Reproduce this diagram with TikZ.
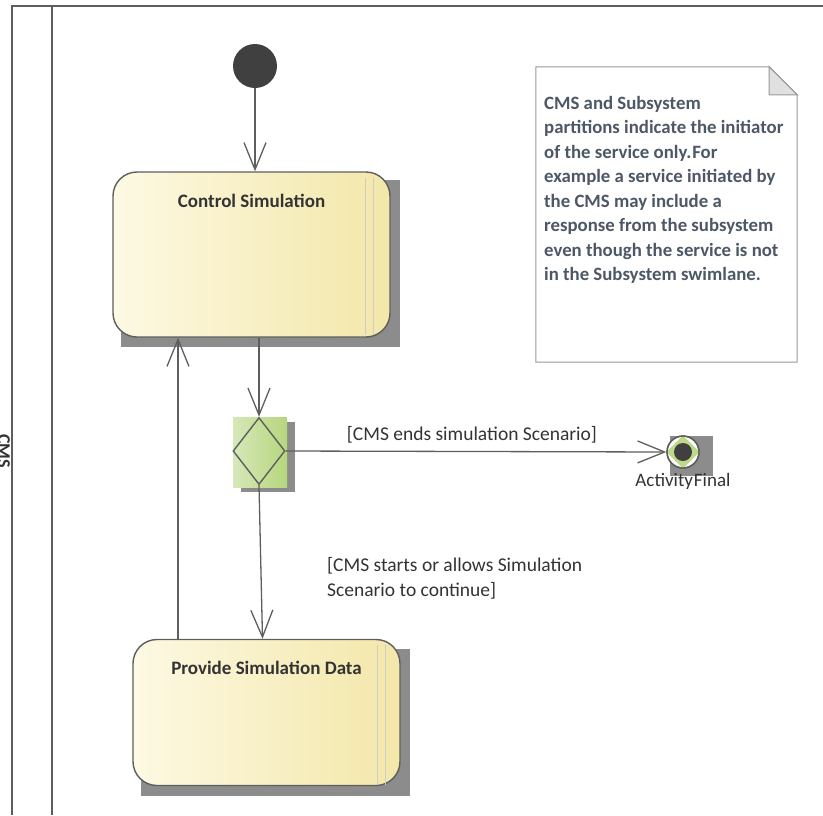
\documentclass[tikz,border=0pt]{standalone}
\usepackage{fontspec}
\setmainfont{Carlito}
\usetikzlibrary{arrows.meta,shapes.geometric,backgrounds}

\definecolor{linegray}{HTML}{5E5E5E}
\definecolor{shadowgray}{HTML}{8C8C8C}
\definecolor{actleft}{HTML}{FDF9E3}
\definecolor{actright}{HTML}{F3E7A9}
\definecolor{decleft}{HTML}{D6E8B9}
\definecolor{decright}{HTML}{B6D67D}
\definecolor{notetext}{HTML}{4D5866}
\definecolor{darkfill}{HTML}{404040}

\tikzset{
  flow/.style={draw=linegray,line width=1.3pt,-{Straight Barb[length=27pt,width=22pt]}},
  action/.style={draw=linegray,line width=1.4pt,rounded corners=24pt,
    left color=actleft,right color=actright,inner sep=0pt},
  acttitle/.style={anchor=north,font=\bfseries\fontsize{19}{22}\selectfont,text=black!80},
  guard/.style={font=\fontsize{19.5}{25}\selectfont,text=black!80},
  lane/.style={draw=linegray,line width=2.4pt}
}

\begin{document}
\begin{tikzpicture}[x=1pt,y=-1pt]
  \useasboundingbox (0,0) rectangle (823,815);
  \clip (0,0) rectangle (823,815);

  % swimlane
  \draw[lane] (823,6) -- (12,6) -- (12,815);
  \draw[lane] (52,6) -- (52,815);
  \node[rotate=-90,font=\bfseries\fontsize{18}{20}\selectfont,text=black!80,inner sep=0pt] (cms) at (4,451) {CMS};

  % nodes
  \node[circle,fill=darkfill,minimum size=44pt,inner sep=0pt] (init) at (255,66) {};
  \node[action,minimum width=277pt,minimum height=165pt,
    label={[acttitle,yshift=-19pt,name=ctrltitle]north:Control Simulation}] (ctrl) at (251.5,254.5) {};
  \node[minimum width=54pt,minimum height=70pt,left color=decleft,right color=decright,
    inner sep=0pt] (dec) at (260,452) {};
  \node[diamond,draw=linegray,line width=1.4pt,minimum width=52pt,minimum height=67pt,
    aspect=0.78,inner sep=0pt] (decd) at (259,451) {};
  \node[circle,draw=linegray,line width=1.4pt,fill=white,minimum size=32pt,inner sep=0pt,
    label={[name=fintitle,font=\fontsize{19}{22}\selectfont,text=black!80,yshift=-1pt]below:Activity\hspace{1pt}Final}] (final) at (683,452) {};
  \node[action,minimum width=267pt,minimum height=146pt,
    label={[acttitle,yshift=-19pt,name=provtitle]north:Provide Simulation Data}] (prov) at (266.5,712.5) {};
  \node[minimum width=261pt,minimum height=295pt,inner sep=0pt] (note) at (666.5,214.5) {};

  \begin{scope}[on background layer]
    \fill[shadowgray] ([xshift=9pt,yshift=-9pt]ctrl.south west) rectangle ([xshift=9pt,yshift=-9pt]ctrl.north east);
    \fill[shadowgray] ([xshift=9pt,yshift=-10pt]prov.south west) rectangle ([xshift=9pt,yshift=-10pt]prov.north east);
    \fill[shadowgray] ([xshift=8pt,yshift=-5pt]dec.south west) rectangle ([xshift=8pt,yshift=-5pt]dec.north east);
    \fill[shadowgray] (670,436) rectangle (713,476);
  \end{scope}

  % inner stack lines
  \draw[black!20,line width=0.8pt] (365,178) -- (365,335) (373,178) -- (373,335);
  \draw[black!20,line width=0.8pt] (377,645) -- (377,785) (385,645) -- (385,785);

  % final node inside
  \fill[decright!80!decleft] (final.north) -- (final.east) -- (final.south) -- (final.west) -- cycle;
  \fill[darkfill] (final) circle (9);
  \draw[linegray,line width=1.4pt] (final) circle (16);

  % note
  \draw[black!40,line width=1pt,fill=white] (note.north west) -- ([xshift=-28pt]note.north east)
    -- ([yshift=-28pt]note.north east) -- (note.south east) -- (note.south west) -- cycle;
  \draw[black!40,line width=1pt,fill=black!12] ([xshift=-28pt]note.north east)
    -- ([xshift=-28pt,yshift=-28pt]note.north east) -- ([yshift=-28pt]note.north east) -- cycle;
  \node[anchor=north west,align=left,text=notetext,inner sep=0pt,
    font=\bfseries\fontsize{18.8}{24.5}\selectfont] (notetxt) at (544,96)
    {CMS and Subsystem\\partitions indicate the initiator\\of the service only.\hspace{1pt}For\\example a service initiated by\\the CMS may include a\\response from the subsystem\\even though the service is not\\in the Subsystem swimlane.};

  % flows
  \draw[flow] (init) -- (init |- ctrl.north);
  \draw[flow] (ctrl.south -| decd.north) -- (decd.north);
  \draw[flow] (decd.east) -- (final.west)
    node[guard,midway,above=4pt,xshift=-4pt] (endlbl) {[CMS ends simulation Scenario]};
  \draw[flow] (decd.south) -- ([xshift=-4pt]prov.north);
  \node[guard,anchor=west,align=left,inner sep=0pt] (contlbl) at (327,578)
    {[CMS starts or allows Simulation\\Scenario to continue]};
  \draw[flow] ([xshift=-88.5pt]prov.north) -- ([xshift=-88.5pt]prov.north |- ctrl.south);
\end{tikzpicture}
\end{document}
